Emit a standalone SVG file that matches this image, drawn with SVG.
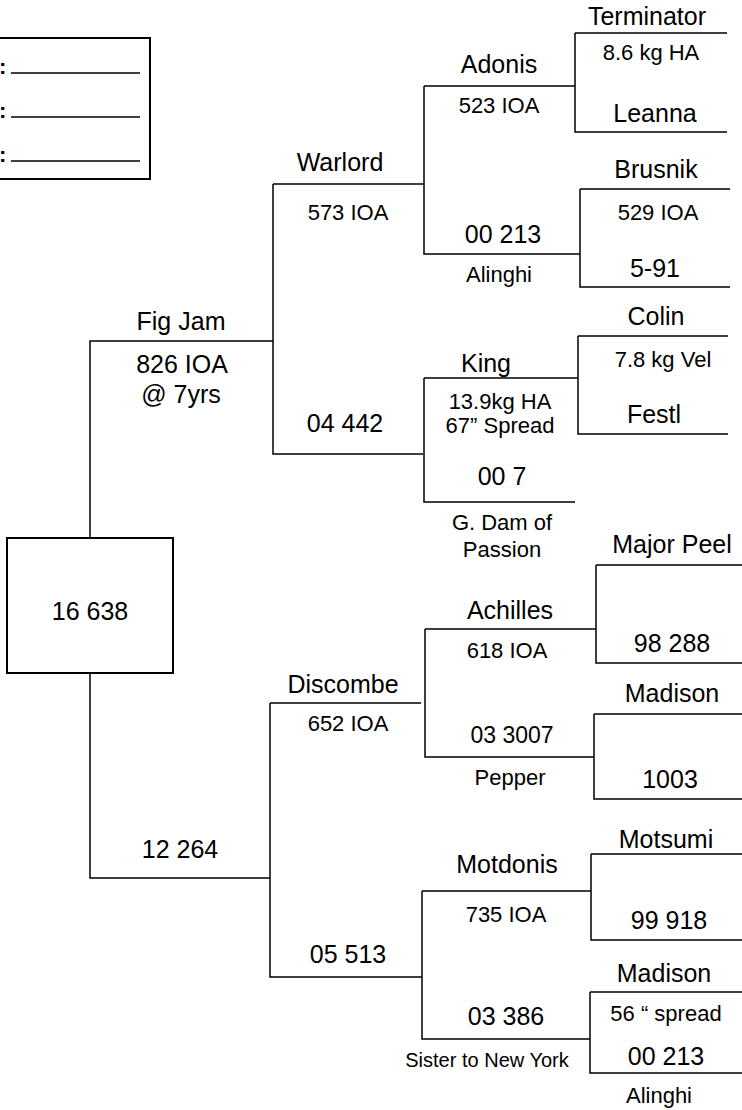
<svg xmlns="http://www.w3.org/2000/svg" width="742" height="1110" viewBox="0 0 742 1110">
<style>
text{font-family:"Liberation Sans",Arial,sans-serif;fill:#000;text-anchor:middle}
.lg{font-size:25px}
.sm{font-size:22px}
.xs{font-size:20px}
.md{font-size:23px}
.cl{font-size:22px;font-weight:bold;text-anchor:start}
.ln{fill:none;stroke:#000;stroke-width:1.5}
.bx{fill:#fff;stroke:#000;stroke-width:2}
</style>
<rect width="742" height="1110" fill="#fff"/>
<g id="legend">
<rect class="bx" x="-5" y="38" width="155" height="141"/>
<line class="ln" x1="11" y1="73" x2="140" y2="73"/>
<line class="ln" x1="11" y1="117" x2="140" y2="117"/>
<line class="ln" x1="11" y1="161" x2="140" y2="161"/>
<text class="cl" x="-1" y="74">:</text>
<text class="cl" x="-1" y="118">:</text>
<text class="cl" x="-1" y="162">:</text>
</g>
<g id="connectors">
<path class="ln" d="M90,538 V341 H273"/>
<path class="ln" d="M90,673 V878 H270"/>
<path class="ln" d="M273,184 H424 M273,184 V454 H423"/>
<path class="ln" d="M424,86 H575 M424,86 V254 H580"/>
<path class="ln" d="M575,33 H727 M575,33 V132 H727"/>
<path class="ln" d="M580,189 H730 M580,189 V287 H730"/>
<path class="ln" d="M424,378 H578 M424,378 V502 H575"/>
<path class="ln" d="M578,336 H728 M578,336 V434 H728"/>
<path class="ln" d="M270,703 H421 M270,703 V977 H422"/>
<path class="ln" d="M425,629 H596 M425,629 V757 H594"/>
<path class="ln" d="M596,565 H742 M596,565 V663 H742"/>
<path class="ln" d="M594,714 H742 M594,714 V799 H742"/>
<path class="ln" d="M422,891 H591 M422,891 V1039 H590"/>
<path class="ln" d="M591,854 H742 M591,854 V940 H742"/>
<path class="ln" d="M590,992 H742 M590,992 V1073 H742"/>
</g>
<g id="root">
<rect class="bx" x="7" y="538" width="166" height="135"/>
<text class="lg" x="90" y="620">16 638</text>
</g>
<g id="figjam">
<text class="lg" x="181" y="330">Fig Jam</text>
<text class="lg" x="182" y="373">826 IOA</text>
<text class="lg" x="181" y="403">@ 7yrs</text>
</g>
<g id="n12264"><text class="lg" x="180" y="858">12 264</text></g>
<g id="warlord">
<text class="lg" x="340" y="171">Warlord</text>
<text class="sm" x="348" y="220">573 IOA</text>
</g>
<g id="n04442"><text class="lg" x="345" y="432">04 442</text></g>
<g id="adonis">
<text class="lg" x="499" y="73">Adonis</text>
<text class="sm" x="499" y="113">523 IOA</text>
</g>
<g id="n00213a">
<text class="lg" x="503" y="243">00 213</text>
<text class="sm" x="499" y="282">Alinghi</text>
</g>
<g id="terminator">
<text class="lg" x="647" y="25">Terminator</text>
<text class="sm" x="651" y="60">8.6 kg HA</text>
</g>
<g id="leanna"><text class="lg" x="655" y="122">Leanna</text></g>
<g id="brusnik">
<text class="lg" x="656" y="178">Brusnik</text>
<text class="sm" x="658" y="220">529 IOA</text>
</g>
<g id="n591"><text class="lg" x="655" y="277">5-91</text></g>
<g id="king">
<text class="lg" x="486" y="372">King</text>
<text class="sm" x="500" y="409">13.9kg HA</text>
<text class="sm" x="500" y="433">67” Spread</text>
</g>
<g id="n007">
<text class="lg" x="502" y="485">00 7</text>
<text class="sm" x="502" y="530">G. Dam of</text>
<text class="sm" x="502" y="557">Passion</text>
</g>
<g id="colin">
<text class="lg" x="656" y="325">Colin</text>
<text class="sm" x="663" y="367">7.8 kg Vel</text>
</g>
<g id="festl"><text class="lg" x="654" y="423">Festl</text></g>
<g id="discombe">
<text class="lg" x="343" y="693">Discombe</text>
<text class="sm" x="348" y="731">652 IOA</text>
</g>
<g id="n05513"><text class="lg" x="348" y="963">05 513</text></g>
<g id="achilles">
<text class="lg" x="510" y="619">Achilles</text>
<text class="sm" x="507" y="658">618 IOA</text>
</g>
<g id="n033007">
<text class="md" x="512" y="743">03 3007</text>
<text class="sm" x="510" y="785">Pepper</text>
</g>
<g id="majorpeel"><text class="lg" x="672" y="553">Major Peel</text></g>
<g id="n98288"><text class="lg" x="672" y="652">98 288</text></g>
<g id="madison1"><text class="lg" x="672" y="702">Madison</text></g>
<g id="n1003"><text class="lg" x="670" y="788">1003</text></g>
<g id="motdonis">
<text class="lg" x="507" y="873">Motdonis</text>
<text class="sm" x="506" y="922">735 IOA</text>
</g>
<g id="n03386">
<text class="lg" x="506" y="1025">03 386</text>
<text class="xs" x="487" y="1067">Sister to New York</text>
</g>
<g id="motsumi"><text class="lg" x="666" y="848">Motsumi</text></g>
<g id="n99918"><text class="lg" x="669" y="929">99 918</text></g>
<g id="madison2">
<text class="lg" x="664" y="982">Madison</text>
<text class="sm" x="666" y="1021">56 “ spread</text>
</g>
<g id="n00213b">
<text class="lg" x="666" y="1065">00 213</text>
<text class="sm" x="659" y="1103">Alinghi</text>
</g>
</svg>
